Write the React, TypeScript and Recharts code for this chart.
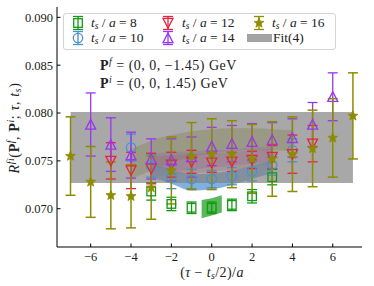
import React from 'react';
import { ComposedChart, XAxis, YAxis, Scatter, ErrorBar, Area } from 'recharts';

// ---------- data ----------
const xTicks = [-6, -4, -2, 0, 2, 4, 6];
const yTicks = [0.07, 0.075, 0.08, 0.085, 0.09];

const tau8 = [-3, -2, -1, 0, 1, 2, 3];
const val8 = [0.0718, 0.0705, 0.0701, 0.0701, 0.0704, 0.0713, 0.0733];
const err8 = [0.0009, 0.0007, 0.0006, 0.0006, 0.0006, 0.0007, 0.0008];

const tau10 = [-4, -3, -2, -1, 0, 1, 2, 3, 4];
const val10 = [0.0764, 0.0745, 0.0733, 0.0731, 0.0731, 0.0734, 0.0739, 0.0746, 0.0761];
const err10 = [0.0014, 0.0012, 0.0012, 0.001, 0.0009, 0.0009, 0.001, 0.0011, 0.0012];

const tau12 = [-5, -4, -3, -2, -1, 0, 1, 2, 3, 4, 5];
const val12 = [0.075, 0.074, 0.0742, 0.0746, 0.0749, 0.0748, 0.0749, 0.0751, 0.0754, 0.0757, 0.0768];
const err12 = [0.0019, 0.0019, 0.0016, 0.0013, 0.0012, 0.001, 0.001, 0.0009, 0.0012, 0.002, 0.0019];

const tau14 = [-6, -5, -4, -3, -2, -1, 0, 1, 2, 3, 4, 5, 6];
const val14 = [0.0788, 0.0767, 0.0756, 0.0752, 0.0751, 0.0754, 0.0765, 0.0768, 0.077, 0.0772, 0.0774, 0.0788, 0.0817];
const err14 = [0.0033, 0.0028, 0.0024, 0.0021, 0.0022, 0.0021, 0.002, 0.0019, 0.0019, 0.0018, 0.002, 0.0023, 0.0025];

const tau16 = [-7, -6, -5, -4, -3, -2, -1, 0, 1, 2, 3, 4, 5, 6, 7];
const val16 = [0.0755, 0.0728, 0.0714, 0.0713, 0.0722, 0.074, 0.0755, 0.0757, 0.0757, 0.0752, 0.0752, 0.0757, 0.0763, 0.0774, 0.0797];
const err16 = [0.0041, 0.0037, 0.0035, 0.0033, 0.0033, 0.0035, 0.0035, 0.0037, 0.0035, 0.0036, 0.0039, 0.0039, 0.004, 0.0041, 0.0045];

// fit bands
const fitTau = [-7, 7];
const fitLow = [0.0727, 0.0727];
const fitHigh = [0.0801, 0.0801];

const band16Tau = [-4, -3, -2, -1, 0, 1, 2, 3, 4];
const band16Low = [0.0731, 0.074, 0.0748, 0.0754, 0.0758, 0.076, 0.0761, 0.0761, 0.076];
const band16High = [0.0762, 0.0771, 0.0777, 0.0781, 0.0783, 0.0784, 0.0784, 0.0783, 0.0782];

const band14Tau = [-3, -2, -1, 0, 1, 2, 3];
const band14Low = [0.0736, 0.0739, 0.0741, 0.0743, 0.0745, 0.0747, 0.0749];
const band14High = [0.0757, 0.0759, 0.076, 0.0761, 0.0762, 0.0764, 0.0765];

const band12Tau = [-3, -2, -1, 0, 1, 2, 3];
const band12Low = [0.0733, 0.0735, 0.0737, 0.0739, 0.0741, 0.0743, 0.0746];
const band12High = [0.0754, 0.0756, 0.0757, 0.0758, 0.0759, 0.0761, 0.0763];

const band10Tau = [-3, -2, -1, 0, 1, 2, 3];
const band10Low = [0.0733, 0.0726, 0.0719, 0.072, 0.0725, 0.0731, 0.0737];
const band10High = [0.0748, 0.0741, 0.0736, 0.0737, 0.074, 0.0745, 0.0751];

const band8Tau = [-0.5, 0, 0.5];
const band8Low = [0.069, 0.0693, 0.0696];
const band8High = [0.0709, 0.0711, 0.0714];

// ---------- style ----------
const FONT = '"Liberation Serif", "DejaVu Serif", serif';
const C8 = '#139a13';
const C10 = '#4a8fcf';
const C12 = '#e8213f';
const C14 = '#9936ee';
const C16 = '#8c8c00';
const CFIT = '#838383';

// ---------- helpers ----------
const toPoints = (t: number[], v: number[], e: number[]) =>
  t.map((x, i) => ({ x, y: v[i], err: e[i] }));

const bandSets: [string, number[], number[], number[]][] = [
  ['fit', fitTau, fitLow, fitHigh],
  ['b16', band16Tau, band16Low, band16High],
  ['b14', band14Tau, band14Low, band14High],
  ['b12', band12Tau, band12Low, band12High],
  ['b10', band10Tau, band10Low, band10High],
  ['b8', band8Tau, band8Low, band8High],
];

const allX = Array.from(new Set(bandSets.flatMap((b) => b[1]))).sort((a, b) => a - b);
const bandTable = allX.map((x) => {
  const row: any = { x };
  bandSets.forEach(([key, t, lo, hi]) => {
    const i = t.indexOf(x);
    if (i >= 0) row[key] = [lo[i], hi[i]];
  });
  return row;
});

type MP = { cx?: number; cy?: number; color: string };
const SW = 1.3;
const Square = ({ cx = 0, cy = 0, color }: MP) => (
  <rect x={cx - 4.3} y={cy - 4.3} width={8.6} height={8.6} fill="none" stroke={color} strokeWidth={SW} />
);
const Circ = ({ cx = 0, cy = 0, color }: MP) => (
  <circle cx={cx} cy={cy} r={4.7} fill="none" stroke={color} strokeWidth={SW} />
);
const TriDown = ({ cx = 0, cy = 0, color }: MP) => (
  <polygon points={`${cx - 5},${cy - 4.6} ${cx + 5},${cy - 4.6} ${cx},${cy + 5}`} fill="none" stroke={color} strokeWidth={SW} />
);
const TriUp = ({ cx = 0, cy = 0, color }: MP) => (
  <polygon points={`${cx - 5},${cy + 4.6} ${cx + 5},${cy + 4.6} ${cx},${cy - 5}`} fill="none" stroke={color} strokeWidth={SW} />
);
const Star = ({ cx = 0, cy = 0, color }: MP) => {
  const pts: string[] = [];
  for (let k = 0; k < 10; k++) {
    const r = k % 2 === 0 ? 5.2 : 2.2;
    const a = -Math.PI / 2 + (k * Math.PI) / 5;
    pts.push(`${cx + r * Math.cos(a)},${cy + r * Math.sin(a)}`);
  }
  return <polygon points={pts.join(' ')} fill={color} stroke={color} strokeWidth={0.8} />;
};

const fmtX = (v: number) => (v < 0 ? '\u2212' + Math.abs(v) : String(v));
const fmtY = (v: number) => v.toFixed(3);

const Sup = ({ children }: any) => (
  <span style={{ fontSize: '70%', position: 'relative', top: '-0.5em', lineHeight: 0 }}>{children}</span>
);
const Sub = ({ children }: any) => (
  <span style={{ fontSize: '70%', position: 'relative', top: '0.25em', lineHeight: 0 }}>{children}</span>
);

const LegendIcon = ({ Shape, color }: any) => (
  <svg width={14} height={16} style={{ position: 'absolute', left: -7, top: -8, overflow: 'visible' }}>
    <line x1={7} y1={1.5} x2={7} y2={14.5} stroke={color} strokeWidth={SW} />
    <line x1={2} y1={1.5} x2={12} y2={1.5} stroke={color} strokeWidth={SW} />
    <line x1={2} y1={14.5} x2={12} y2={14.5} stroke={color} strokeWidth={SW} />
    <Shape cx={7} cy={8} color={color} />
  </svg>
);

const TsLabel = ({ n }: { n: number }) => (
  <span>
    <i>t</i>
    <Sub>
      <i>s</i>
    </Sub>
    {'\u00a0/\u00a0'}
    <i>a</i>
    {'\u00a0=\u00a0' + n}
  </span>
);

const legendItems = [
  { Shape: Square, color: C8, n: 8, ix: 78, tx: 91, y: 23 },
  { Shape: Circ, color: C10, n: 10, ix: 78, tx: 91, y: 38 },
  { Shape: TriDown, color: C12, n: 12, ix: 168, tx: 182, y: 23 },
  { Shape: TriUp, color: C14, n: 14, ix: 168, tx: 182, y: 38 },
  { Shape: Star, color: C16, n: 16, ix: 259, tx: 272, y: 23 },
];

const textStyle: React.CSSProperties = {
  position: 'absolute',
  fontFamily: FONT,
  fontSize: 13.5,
  color: '#222',
  whiteSpace: 'nowrap',
  lineHeight: '12px',
};

const areaCommon = {
  stroke: 'none',
  connectNulls: true,
  isAnimationActive: false,
  dot: false,
  activeDot: false,
} as const;

export default function App() {
  const tickStyle = { fontFamily: FONT, fontSize: 12.5, fill: '#222' };
  return (
    <div style={{ position: 'absolute', left: 0, top: 0, width: 374, height: 286, background: '#fff' }}>
      <ComposedChart width={374} height={286} margin={{ top: 7, right: 12, bottom: 0, left: 0 }} data={bandTable}>
        <XAxis
          dataKey="x"
          type="number"
          domain={[-7.67, 7.45]}
          allowDataOverflow
          ticks={xTicks}
          tickFormatter={fmtX}
          height={39}
          tickSize={-3.5}
          tickMargin={9}
          tick={tickStyle}
          axisLine={{ stroke: '#000', strokeWidth: 1 }}
          tickLine={{ stroke: '#000' }}
        />
        <XAxis
          xAxisId="top"
          orientation="top"
          dataKey="x"
          type="number"
          domain={[-7.67, 7.45]}
          allowDataOverflow
          ticks={xTicks}
          tickFormatter={() => ''}
          height={0}
          tickSize={-3.5}
          axisLine={{ stroke: '#000', strokeWidth: 1 }}
          tickLine={{ stroke: '#000' }}
        />
        <YAxis
          dataKey="y"
          type="number"
          domain={[0.066, 0.09108]}
          allowDataOverflow
          ticks={yTicks}
          tickFormatter={fmtY}
          width={57}
          tickSize={-3.5}
          tickMargin={7.5}
          tick={tickStyle}
          axisLine={{ stroke: '#000', strokeWidth: 1 }}
          tickLine={{ stroke: '#000' }}
        />
        <YAxis
          yAxisId="right"
          orientation="right"
          type="number"
          domain={[0.066, 0.09108]}
          allowDataOverflow
          ticks={yTicks}
          tickFormatter={() => ''}
          width={0}
          tickSize={-3.5}
          axisLine={{ stroke: '#000', strokeWidth: 1 }}
          tickLine={{ stroke: '#000' }}
        />

        <Area dataKey="b16" type="monotone" fill={C16} fillOpacity={0.45} {...areaCommon} />
        <Area dataKey="b14" type="monotone" fill={C14} fillOpacity={0.3} {...areaCommon} />
        <Area dataKey="b12" type="monotone" fill={C12} fillOpacity={0.3} {...areaCommon} />
        <Area dataKey="b10" type="monotone" fill={C10} fillOpacity={0.7} {...areaCommon} />
        <Area dataKey="b8" type="linear" fill={C8} fillOpacity={0.7} {...areaCommon} />
        <Area dataKey="fit" type="linear" fill={CFIT} fillOpacity={0.7} {...areaCommon} />

        <Scatter data={toPoints(tau8, val8, err8)} isAnimationActive={false} shape={(p: any) => <Square cx={p.cx} cy={p.cy} color={C8} />}>
          <ErrorBar dataKey="err" direction="y" width={5} stroke={C8} strokeWidth={SW} isAnimationActive={false} />
        </Scatter>
        <Scatter data={toPoints(tau10, val10, err10)} isAnimationActive={false} shape={(p: any) => <Circ cx={p.cx} cy={p.cy} color={C10} />}>
          <ErrorBar dataKey="err" direction="y" width={5} stroke={C10} strokeWidth={SW} isAnimationActive={false} />
        </Scatter>
        <Scatter data={toPoints(tau12, val12, err12)} isAnimationActive={false} shape={(p: any) => <TriDown cx={p.cx} cy={p.cy} color={C12} />}>
          <ErrorBar dataKey="err" direction="y" width={5} stroke={C12} strokeWidth={SW} isAnimationActive={false} />
        </Scatter>
        <Scatter data={toPoints(tau14, val14, err14)} isAnimationActive={false} shape={(p: any) => <TriUp cx={p.cx} cy={p.cy} color={C14} />}>
          <ErrorBar dataKey="err" direction="y" width={5} stroke={C14} strokeWidth={SW} isAnimationActive={false} />
        </Scatter>
        <Scatter data={toPoints(tau16, val16, err16)} isAnimationActive={false} shape={(p: any) => <Star cx={p.cx} cy={p.cy} color={C16} />}>
          <ErrorBar dataKey="err" direction="y" width={5} stroke={C16} strokeWidth={1.5} isAnimationActive={false} />
        </Scatter>
      </ComposedChart>

      {/* legend */}
      <div
        style={{
          position: 'absolute',
          left: 63,
          top: 13,
          width: 273,
          height: 37,
          boxSizing: 'border-box',
          border: '1px solid #d3d3d3',
          borderRadius: 3,
          background: 'rgba(255,255,255,0.85)',
        }}
      />
      {legendItems.map((it) => (
        <React.Fragment key={it.n}>
          <div style={{ position: 'absolute', left: it.ix, top: it.y }}>
            <LegendIcon Shape={it.Shape} color={it.color} />
          </div>
          <div style={{ ...textStyle, left: it.tx, top: it.y - 6 }}>
            <TsLabel n={it.n} />
          </div>
        </React.Fragment>
      ))}
      <div style={{ position: 'absolute', left: 247, top: 34, width: 25, height: 8, background: '#a3a3a3' }} />
      <div style={{ ...textStyle, left: 273, top: 32 }}>Fit(4)</div>

      {/* annotations */}
      <div style={{ ...textStyle, fontSize: 14, lineHeight: '14px', letterSpacing: 0.5, left: 100, top: 59 }}>
        <b>P</b>
        <Sup>
          <i>f</i>
        </Sup>
        {'\u00a0= (0, 0, \u22121.45) GeV'}
      </div>
      <div style={{ ...textStyle, fontSize: 14, lineHeight: '14px', letterSpacing: 0.5, left: 100, top: 77 }}>
        <b>P</b>
        <Sup>
          <i>i</i>
        </Sup>
        {'\u00a0= (0, 0, 1.45) GeV'}
      </div>

      {/* axis labels */}
      <div
        style={{
          ...textStyle,
          fontSize: 14,
          letterSpacing: 0.6,
          left: -55,
          top: 120,
          width: 140,
          height: 16,
          lineHeight: '16px',
          textAlign: 'center',
          transform: 'rotate(-90deg)',
        }}
      >
        <i>R</i>
        <Sup>
          <i>fi</i>
        </Sup>
        (<b>P</b>
        <Sup>
          <i>f</i>
        </Sup>
        , <b>P</b>
        <Sup>
          <i>i</i>
        </Sup>
        ; <i>τ</i>, <i>t</i>
        <Sub>
          <i>s</i>
        </Sub>
        )
      </div>
      <div style={{ ...textStyle, fontSize: 14, lineHeight: '14px', letterSpacing: 0.4, left: 144, top: 266, width: 136, textAlign: 'center' }}>
        (<i>τ</i> {'\u2212'} <i>t</i>
        <Sub>
          <i>s</i>
        </Sub>
        /2)/<i>a</i>
      </div>
    </div>
  );
}
